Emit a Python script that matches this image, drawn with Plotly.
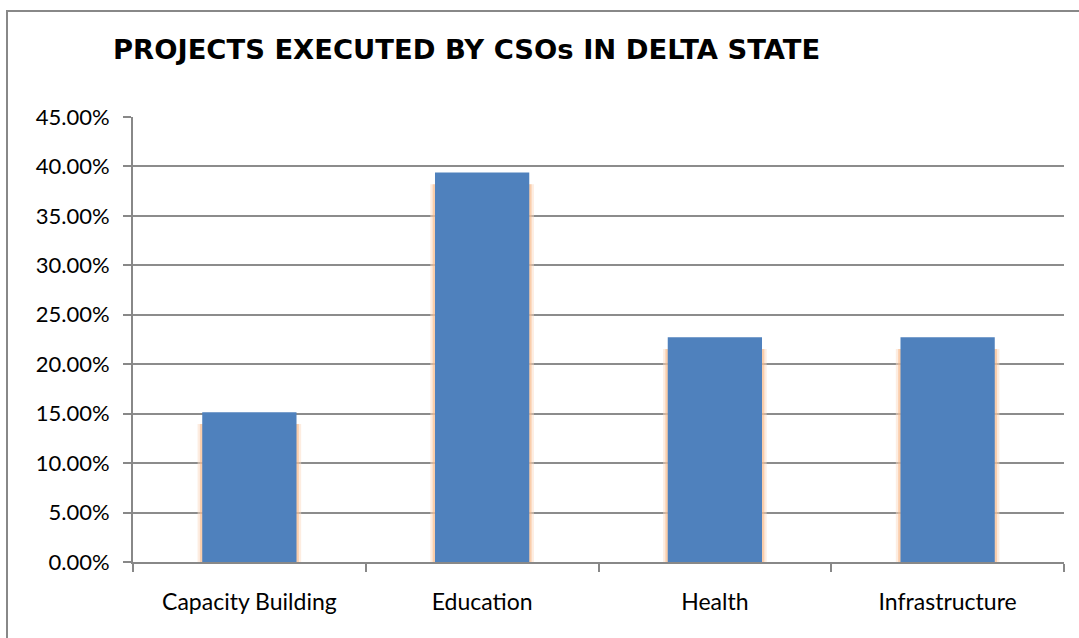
import plotly.graph_objects as go

categories = ["Capacity Building", "Education", "Health", "Infrastructure"]
shares = [0.1515, 0.3939, 0.2273, 0.2273]
y_ticks = [0, 0.05, 0.10, 0.15, 0.20, 0.25, 0.30, 0.35, 0.40, 0.45]
y_tick_labels = ["0.00%", "5.00%", "10.00%", "15.00%", "20.00%", "25.00%",
                 "30.00%", "35.00%", "40.00%", "45.00%"]
title_text = "PROJECTS EXECUTED BY CSOs IN DELTA STATE"

W, H = 1079, 638
L, R, T, B = 133, 15, 117, 76
pw, ph = W - L - R, H - T - B

fig = go.Figure()
# soft orange glow behind bars
fig.add_trace(go.Bar(x=categories, y=[v - 0.012 for v in shares], width=0.445,
                     marker=dict(color="rgba(252,220,195,0.5)", line=dict(width=0)),
                     hoverinfo="skip", showlegend=False))
fig.add_trace(go.Bar(x=categories, y=[v - 0.012 for v in shares], width=0.425,
                     marker=dict(color="rgba(247,180,130,0.55)", line=dict(width=0)),
                     hoverinfo="skip", showlegend=False))
fig.add_trace(go.Bar(x=categories, y=shares, width=0.405,
                     marker=dict(color="#4f81bd", line=dict(width=0)),
                     showlegend=False))

fig.update_layout(
    width=W, height=H,
    margin=dict(l=L, r=R, t=T, b=B),
    barmode="overlay",
    paper_bgcolor="white", plot_bgcolor="white",
    font=dict(family="Lato, sans-serif", color="#000000", size=22),
    title=dict(text="<b>" + title_text + "</b>",
               font=dict(family="DejaVu Sans", size=27.4, color="#000000"),
               x=113 / W, xanchor="left", xref="container",
               y=1 - 49 / H, yanchor="middle", yref="container"),
    xaxis=dict(showline=True, linecolor="#888888", linewidth=2,
               ticks="outside", ticklen=8, tickcolor="#888888", tickwidth=2,
               tickson="boundaries", showgrid=False, ticklabelstandoff=18,
               tickfont=dict(family="Lato, sans-serif", size=23, color="#000000"),
               range=[-0.5, 3.5]),
    yaxis=dict(range=[0, 0.45], tickvals=y_ticks, ticktext=y_tick_labels,
               showline=True, linecolor="#888888", linewidth=2,
               ticks="outside", ticklen=8, tickcolor="#888888", tickwidth=2,
               showgrid=True, gridcolor="#8c8c8c", gridwidth=1.6,
               zeroline=False, ticklabelstandoff=9,
               tickfont=dict(family="Lato, sans-serif", size=22, color="#000000")),
    shapes=[dict(type="rect", xref="paper", yref="paper",
                 x0=(7 - L) / pw, x1=(W + 20 - L) / pw,
                 y0=-(B + 20) / ph, y1=1 + (T - 11) / ph,
                 line=dict(color="#888888", width=2), fillcolor="rgba(0,0,0,0)",
                 layer="below")],
)

fig.write_html("out.html")
